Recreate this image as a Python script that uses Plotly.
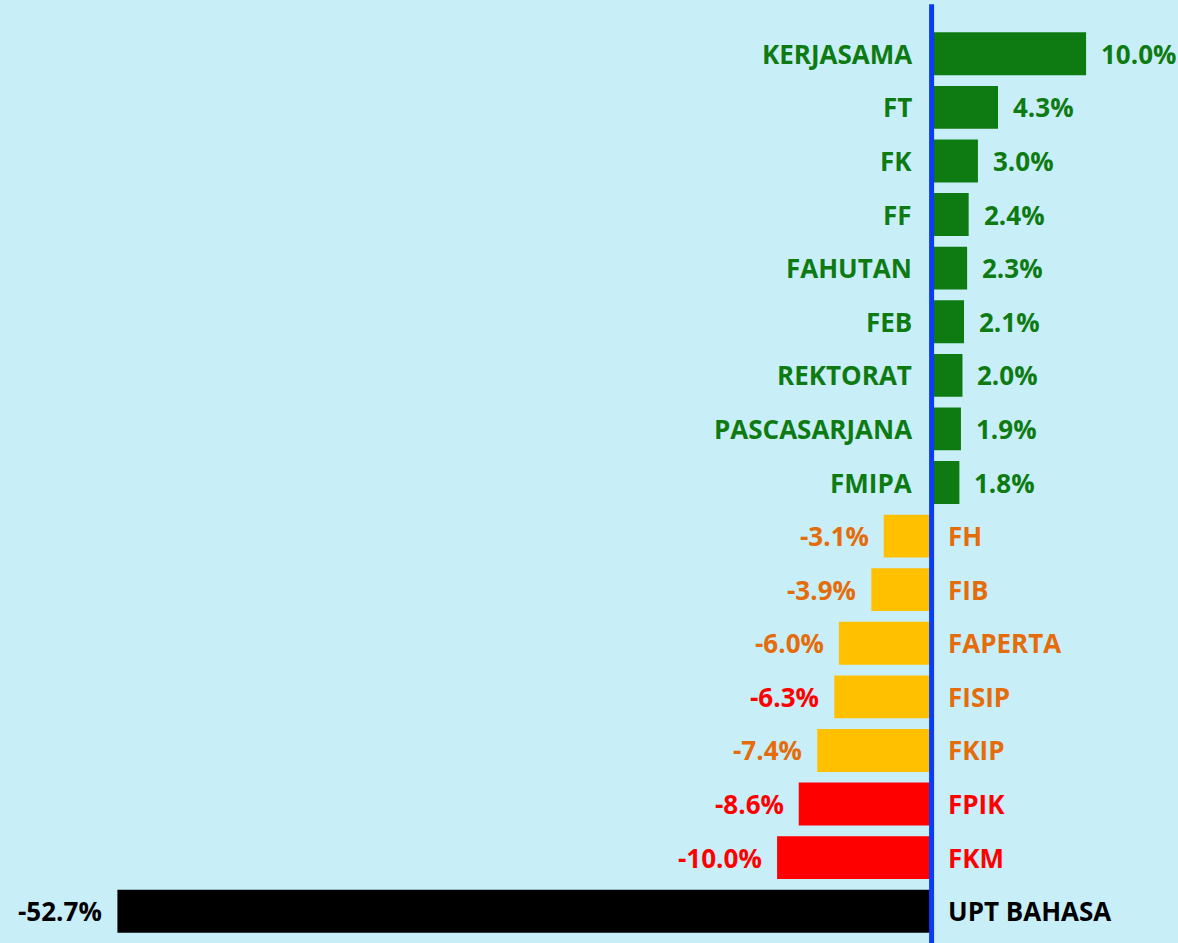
import plotly.graph_objects as go

categories = ["KERJASAMA", "FT", "FK", "FF", "FAHUTAN", "FEB", "REKTORAT",
              "PASCASARJANA", "FMIPA", "FH", "FIB", "FAPERTA", "FISIP", "FKIP",
              "FPIK", "FKM", "UPT BAHASA"]
values = [10.0, 4.3, 3.0, 2.4, 2.3, 2.1, 2.0, 1.9, 1.8,
          -3.1, -3.9, -6.0, -6.3, -7.4, -8.6, -10.0, -52.7]
groups = ["up"] * 9 + ["warn"] * 5 + ["bad"] * 2 + ["worst"]

GREEN = "#0E7A12"
ORANGE = "#E46C0A"
YELLOW = "#FFC000"
RED = "#FF0000"
BLACK = "#000000"
BG = "#C8EEF8"
BLUE = "#0A3CF5"

bar_color = {"up": GREEN, "warn": YELLOW, "bad": RED, "worst": BLACK}
text_color = {"up": GREEN, "warn": ORANGE, "bad": RED, "worst": BLACK}
value_color_override = {"FISIP": RED}

FONT = "Open Sans"
FSIZE = 26

fig = go.Figure()
fig.add_trace(go.Bar(
    y=categories, x=values, orientation="h",
    marker=dict(color=[bar_color[g] for g in groups], line=dict(width=0)),
    hoverinfo="skip", showlegend=False,
))

annotations = []
for cat, v, g in zip(categories, values, groups):
    tc = text_color[g]
    vc = value_color_override.get(cat, tc)
    pos = v >= 0
    # category name on the opposite side of the zero line
    annotations.append(dict(
        x=0, y=cat, xref="x", yref="y", text=f"<b>{cat}</b>", showarrow=False,
        xanchor="right" if pos else "left", xshift=-18 if pos else 14,
        font=dict(family=FONT, size=FSIZE, color=tc),
    ))
    # value label at the bar end
    annotations.append(dict(
        x=v, y=cat, xref="x", yref="y", text=f"<b>{v:.1f}%</b>", showarrow=False,
        xanchor="left" if pos else "right", xshift=13 if pos else -13,
        font=dict(family=FONT, size=FSIZE, color=vc),
    ))

fig.update_layout(
    width=1178, height=943,
    margin=dict(l=0, r=0, t=27, b=5),
    paper_bgcolor=BG, plot_bgcolor=BG,
    bargap=0.2,
    xaxis=dict(range=[-60.3, 15.95], visible=False, fixedrange=True),
    yaxis=dict(autorange="reversed", visible=False, fixedrange=True),
    annotations=annotations,
    shapes=[dict(type="line", xref="x", yref="paper", x0=0, x1=0,
                 y0=-0.01, y1=1.025, line=dict(color=BLUE, width=5), layer="above")],
)

fig.write_html("out.html", config={"displayModeBar": False},
               post_script="document.body.style.margin='0';document.body.style.overflow='hidden';")
